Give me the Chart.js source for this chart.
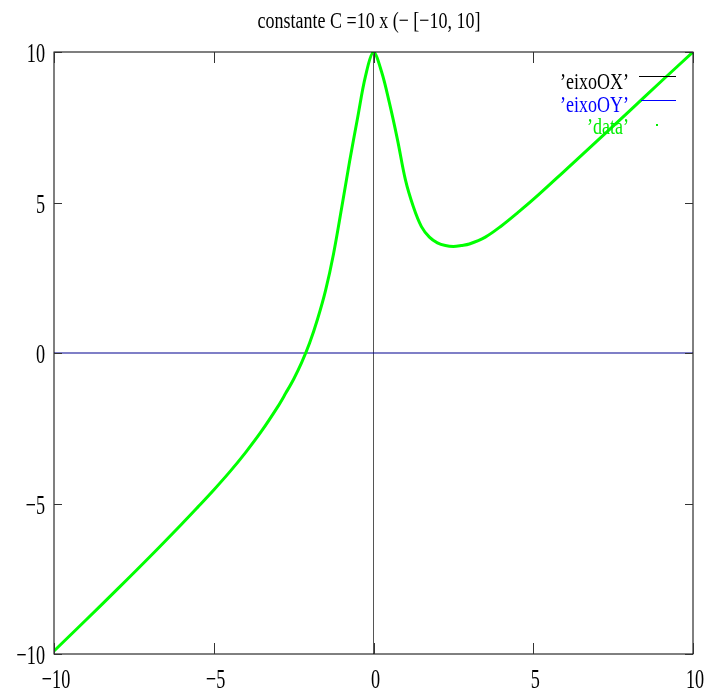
<!DOCTYPE html>
<html>
<head>
<meta charset="utf-8">
<script src="https://cdn.jsdelivr.net/npm/chart.js@4/dist/chart.umd.min.js"></script>
<style>
  html, body { margin: 0; padding: 0; background: #fff; }
  #wrap { width: 715px; height: 693px; }
</style>
</head>
<body>
<div id="wrap"><canvas id="plot"></canvas></div>
<script>
// curve samples
const xs = [-10, -9, -8, -7, -6, -5.5, -5, -4.5, -4, -3.5, -3, -2.75, -2.5, -2.25, -2, -1.75,
  -1.5, -1.25, -1, -0.75, -0.5, -0.25, 0, 0.25, 0.5, 0.75, 1, 1.25, 1.5, 1.75, 2, 2.25, 2.5,
  2.75, 3, 3.5, 4, 4.5, 5, 6, 7, 8, 9, 10];
const ys = [-9.9, -8.87, -7.83, -6.77, -5.68, -5.12, -4.55, -3.95, -3.3, -2.59, -1.79, -1.34,
  -0.87, -0.32, 0.33, 1.13, 2.08, 3.3, 4.8, 6.35, 7.8, 9.2, 10, 9.35, 8.3, 7.09, 5.75, 4.85, 4.2,
  3.85, 3.66, 3.57, 3.54, 3.57, 3.62, 3.85, 4.22, 4.65, 5.1, 6.07, 7.05, 8.03, 9.02, 10];

// axis lines x = 0 and y = 0
const eixoOX = { x: [0, 0], y: [-10, 10] };
const eixoOY = { x: [-10, 10], y: [0, 0] };

const xTicks = [-10, -5, 0, 5, 10];
const yTicks = [-10, -5, 0, 5, 10];
const titleText = "constante C =10 x (\u2212 [\u221210, 10]";
const legendNames = ["\u2019eixoOX\u2019", "\u2019eixoOY\u2019", "\u2019data\u2019"];

const toPoints = (a, b) => a.map((v, i) => ({ x: v, y: b[i] }));
const fmt = v => (v < 0 ? "\u2212" + Math.abs(v) : String(v));

// gnuplot-ish narrow serif text
function squeeze(ctx, text, x, y, sx, align) {
  ctx.save();
  ctx.translate(x, y);
  ctx.scale(sx, 1);
  ctx.textAlign = align;
  ctx.fillText(text, 0, 0);
  ctx.restore();
}

const frame = {
  id: "frame",
  afterDraw(chart) {
    const { ctx, chartArea: a, scales } = chart;
    const sx = scales.x, sy = scales.y;
    ctx.save();

    // border box
    ctx.strokeStyle = "#000";
    ctx.lineWidth = 1;
    ctx.strokeRect(a.left, a.top, a.right - a.left, a.bottom - a.top);

    // inward ticks on every side
    ctx.strokeStyle = "#333";
    ctx.beginPath();
    xTicks.forEach(v => {
      const px = Math.round(sx.getPixelForValue(v)) + 0.5;
      ctx.moveTo(px, a.bottom); ctx.lineTo(px, a.bottom - 11);
      ctx.moveTo(px, a.top); ctx.lineTo(px, a.top + 11);
    });
    yTicks.forEach(v => {
      const py = Math.round(sy.getPixelForValue(v)) + 0.5;
      ctx.moveTo(a.left, py); ctx.lineTo(a.left + 8, py);
      ctx.moveTo(a.right, py); ctx.lineTo(a.right - 8, py);
    });
    ctx.stroke();

    // tick labels
    ctx.fillStyle = "#000";
    ctx.font = "28px 'Liberation Serif'";
    ctx.textBaseline = "middle";
    yTicks.forEach(v => {
      squeeze(ctx, fmt(v), a.left - 9, sy.getPixelForValue(v) + 3, 0.65, "right");
    });
    xTicks.forEach(v => {
      squeeze(ctx, fmt(v), sx.getPixelForValue(v) + 2, a.bottom + 27, 0.65, "center");
    });

    // title
    ctx.textBaseline = "alphabetic";
    ctx.font = "24px 'Liberation Serif'";
    squeeze(ctx, titleText, 369, 28, 0.75, "center");

    // legend
    ctx.font = "24px 'Liberation Serif'";
    const colors = ["#000", "#0000ff", "#00ee00"];
    const base = [89, 112, 134];
    legendNames.forEach((name, i) => {
      ctx.fillStyle = colors[i];
      squeeze(ctx, name, 629, base[i], 0.75, "right");
    });
    ctx.lineWidth = 1;
    ctx.strokeStyle = "#000";
    ctx.beginPath(); ctx.moveTo(639, 76.5); ctx.lineTo(676, 76.5); ctx.stroke();
    ctx.strokeStyle = "#0000ff";
    ctx.beginPath(); ctx.moveTo(641, 100.5); ctx.lineTo(676, 100.5); ctx.stroke();
    ctx.fillStyle = "#00ee00";
    ctx.fillRect(656, 124, 2, 2);

    ctx.restore();
  }
};

new Chart(document.getElementById("plot"), {
  type: "line",
  data: {
    datasets: [
      {
        label: "data",
        data: toPoints(xs, ys),
        borderColor: "#00ff00",
        borderWidth: 3,
        pointRadius: 0,
        tension: 0.35,
        order: 0,
      },
      {
        label: "eixoOY",
        data: toPoints(eixoOY.x, eixoOY.y),
        borderColor: "#000090",
        borderWidth: 1.2,
        pointRadius: 0,
        order: 1,
      },
      {
        label: "eixoOX",
        data: toPoints(eixoOX.x, eixoOX.y),
        borderColor: "#555",
        borderWidth: 1,
        pointRadius: 0,
        order: 2,
      },
    ],
  },
  options: {
    responsive: true,
    maintainAspectRatio: false,
    animation: false,
    layout: { padding: { left: 54, right: 22, top: 52, bottom: 39 } },
    scales: {
      x: { type: "linear", min: -10, max: 10, display: false },
      y: { type: "linear", min: -10, max: 10, display: false },
    },
    plugins: {
      legend: { display: false },
      tooltip: { enabled: false },
    },
  },
  plugins: [frame],
});
</script>
</body>
</html>
